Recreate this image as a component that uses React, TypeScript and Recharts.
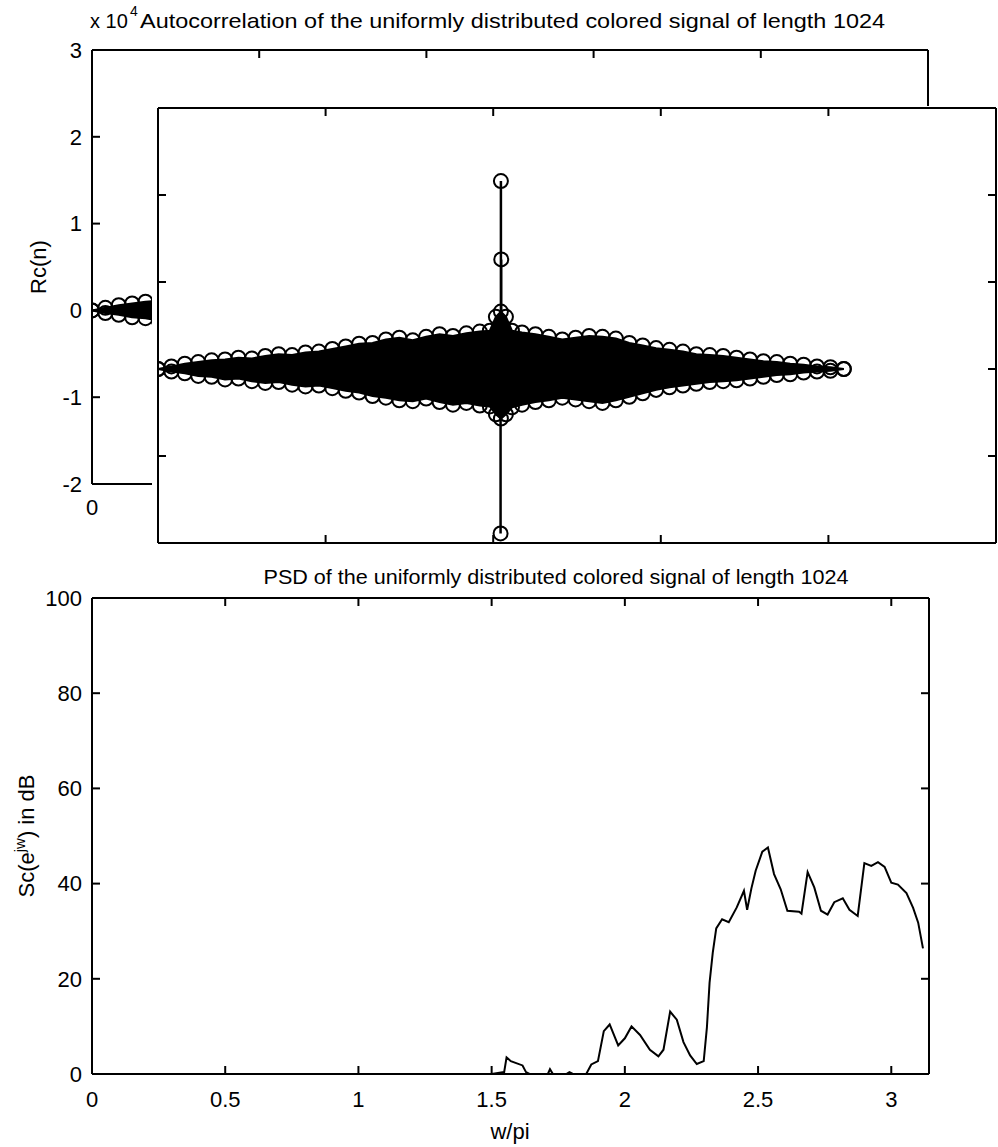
import { ComposedChart, Line, Area, Scatter, XAxis, YAxis } from 'recharts'

const FONT = "'Liberation Sans', Arial, Helvetica, sans-serif"

// autocorrelation Rc(n), values in units of 1e4: envelope of the stem cloud
const ACF_LAG = [
  0, 40, 80, 120, 160, 200, 240, 280, 320, 360, 400, 440, 480, 520, 560, 600, 640, 680, 720, 760, 800, 840, 880, 920, 960,
  990, 1008, 1023, 1038, 1056,
  1086, 1126, 1166, 1206, 1246, 1286, 1326, 1366, 1406, 1446, 1486, 1526, 1566, 1606, 1646, 1686, 1726, 1766, 1806, 1846, 1886, 1926, 1966, 2006, 2046,
]
const ACF_HI = [
  0, 0.03, 0.06, 0.08, 0.1, 0.11, 0.13, 0.12, 0.15, 0.17, 0.16, 0.19, 0.2, 0.23, 0.26, 0.29, 0.3, 0.34, 0.36, 0.33, 0.37, 0.4, 0.38, 0.41, 0.43,
  0.44, 0.6, 0.66, 0.6, 0.44,
  0.42, 0.4, 0.37, 0.34, 0.36, 0.38, 0.37, 0.35, 0.3, 0.27, 0.24, 0.22, 0.2, 0.17, 0.16, 0.15, 0.13, 0.11, 0.09, 0.08, 0.06, 0.05, 0.03, 0.02, 0,
]
const ACF_LO = [
  0, -0.03, -0.05, -0.08, -0.09, -0.12, -0.11, -0.14, -0.16, -0.15, -0.18, -0.2, -0.19, -0.22, -0.25, -0.27, -0.31, -0.33, -0.36, -0.37, -0.34, -0.38, -0.41, -0.39, -0.42,
  -0.43, -0.52, -0.57, -0.52, -0.44,
  -0.41, -0.38, -0.36, -0.33, -0.35, -0.37, -0.39, -0.36, -0.32, -0.28, -0.24, -0.21, -0.19, -0.17, -0.15, -0.14, -0.13, -0.11, -0.09, -0.07, -0.06, -0.04, -0.03, -0.02, 0,
]
// the tall stems around lag 0
const STEM_LAG = [1023, 1024, 1022]
const STEM_VAL = [2.16, 1.26, -1.89]
const ACF_TICKS_X = [0, 500, 1000, 1500, 2000, 2500]
const ACF_TICKS_Y = [-2, -1, 0, 1, 2, 3]

// PSD in dB against w/pi
const PSD_W = [
  0, 1.5, 1.547, 1.556, 1.572, 1.616, 1.629, 1.642, 1.711, 1.719, 1.73, 1.78, 1.792, 1.805, 1.855, 1.874, 1.899, 1.921, 1.943,
  1.975, 2.0, 2.025, 2.057, 2.094, 2.126, 2.145, 2.17, 2.195, 2.22, 2.245, 2.27, 2.296, 2.308, 2.318, 2.33, 2.343, 2.365, 2.39,
  2.42, 2.447, 2.459, 2.475, 2.491, 2.516, 2.537, 2.56, 2.585, 2.61, 2.654, 2.663, 2.686, 2.711, 2.736, 2.761, 2.786, 2.818,
  2.843, 2.874, 2.899, 2.925, 2.95, 2.975, 3.0, 3.025, 3.057, 3.082, 3.101, 3.119,
]
const PSD_DB = [
  0, 0, 0.4, 3.5, 2.7, 1.8, 0.4, 0, 0, 1.0, 0, 0, 0.4, 0, 0, 2, 2.7, 9, 10.4,
  6, 7.5, 10, 8.2, 5.1, 3.7, 5.1, 13.1, 11.4, 6.7, 3.9, 2.1, 2.7, 9.8, 19.2, 25.5, 30.6, 32.5, 31.9,
  35, 38.5, 34.5, 39, 42.7, 46.7, 47.6, 42, 38.8, 34.3, 34.1, 33.7, 42.4, 39.2, 34.3, 33.5, 36.1, 36.9,
  34.5, 33.2, 44.3, 43.7, 44.5, 43.5, 40.2, 39.8, 38, 34.9, 31.8, 26.4,
]
const PSD_TICKS_X = [0, 0.5, 1, 1.5, 2, 2.5, 3]
const PSD_TICKS_Y = [0, 20, 40, 60, 80, 100]

const acfRows = ACF_LAG.map((n, i) => ({ n, band: [ACF_LO[i], ACF_HI[i]] }))
const hiPts = ACF_LAG.map((n, i) => ({ n, v: ACF_HI[i] }))
const loPts = ACF_LAG.map((n, i) => ({ n, v: ACF_LO[i] }))
const stemRows = STEM_LAG.flatMap((n, i) => [{ n, s: 0 }, { n, s: STEM_VAL[i] }, { n, s: null }])
const stemPts = STEM_LAG.map((n, i) => ({ n, v: STEM_VAL[i] }))
const psdRows = PSD_W.map((w, i) => ({ w, db: PSD_DB[i] }))

const ink = { stroke: '#000', strokeWidth: 2 }
const tickText = { fontFamily: FONT, fontSize: 22, fill: '#000' }
const blank = () => ''
const noMargin = { top: 0, right: 0, bottom: 0, left: 0 }

const ring = (p: any) => <circle cx={p.cx} cy={p.cy} r={7} fill="none" stroke="#000" strokeWidth={2} />

// top edge of a box: one flat chart draws the edge line, a second one hangs its ticks down from it
function TopTicks({ left, top, width, domain, ticks }: any) {
  const rows = ticks.map((t: number) => ({ t, z: 0 }))
  return (
    <>
      <div style={{ position: 'absolute', left, top: top - 1 }}>
        <ComposedChart width={width} height={12} margin={noMargin} data={rows}>
          <XAxis type="number" dataKey="t" domain={domain} allowDataOverflow ticks={ticks} interval={0} height={11}
            axisLine={ink} tickLine={false} tickFormatter={blank} />
          <YAxis hide domain={[0, 1]} />
          <Line dataKey="z" stroke="none" dot={false} isAnimationActive={false} />
        </ComposedChart>
      </div>
      <div style={{ position: 'absolute', left, top: top - 2 }}>
        <ComposedChart width={width} height={20} margin={noMargin} data={rows}>
          <XAxis type="number" dataKey="t" domain={domain} allowDataOverflow ticks={ticks} interval={0} height={10}
            axisLine={false} tickLine={ink} tickSize={-8} tick={tickText} tickFormatter={blank} />
          <YAxis type="number" domain={[0, 1]} width={0.001} axisLine={false} tickLine={false} tick={false} />
          <Line dataKey="z" stroke="none" dot={false} isAnimationActive={false} />
        </ComposedChart>
      </div>
    </>
  )
}

// right edge of a box with inward ticks: a thin chart whose left axis sits on the box's right edge
function RightTicks({ left, top, height, domain, ticks }: any) {
  const rows = ticks.map((t: number) => ({ k: 0, t }))
  return (
    <div style={{ position: 'absolute', left: left - 19, top }}>
      <ComposedChart width={20} height={height} margin={noMargin} data={rows}>
        <XAxis hide type="number" dataKey="k" domain={[0, 1]} />
        <YAxis type="number" domain={domain} allowDataOverflow ticks={ticks} interval={0} width={19}
          axisLine={ink} tickLine={ink} tickSize={8} tickFormatter={blank} />
        <Line dataKey="t" stroke="none" dot={false} isAnimationActive={false} />
      </ComposedChart>
    </div>
  )
}

function AcfChart({ width, height, margin, yW, xH, labels }: any) {
  return (
    <ComposedChart width={width} height={height} margin={margin} data={acfRows}>
      <XAxis type="number" dataKey="n" domain={[0, 2500]} allowDataOverflow ticks={ACF_TICKS_X} interval={0} height={xH}
        axisLine={ink} tickLine={ink} tickSize={-8} tickMargin={23} tick={tickText} tickFormatter={labels ? undefined : blank} />
      <YAxis type="number" domain={[-2, 3]} allowDataOverflow ticks={ACF_TICKS_Y} interval={0} width={yW}
        axisLine={ink} tickLine={ink} tickSize={-8} tickMargin={18} tick={tickText} tickFormatter={labels ? undefined : blank} />
      <Area dataKey="band" type="linear" fill="#000" fillOpacity={1} stroke="#000" strokeWidth={2} isAnimationActive={false} />
      <Line data={stemRows} dataKey="s" type="linear" stroke="#000" strokeWidth={2.5} dot={false} isAnimationActive={false} />
      <Scatter data={hiPts} dataKey="v" shape={ring} isAnimationActive={false} />
      <Scatter data={loPts} dataKey="v" shape={ring} isAnimationActive={false} />
      <Scatter data={stemPts} dataKey="v" shape={ring} isAnimationActive={false} />
    </ComposedChart>
  )
}

const PSD_TOP = 598

export default function App() {
  return (
    <div style={{ position: 'absolute', left: 0, top: 0, width: 998, height: 1147, background: '#fff', overflow: 'hidden' }}>
      {/* back axes of the top subplot: box 92..928 x 50..484 */}
      <div style={{ position: 'absolute', left: 0, top: 0 }}>
        <AcfChart width={998} height={560} margin={{ top: 50, right: 70, bottom: 0, left: 0 }} yW={92} xH={76} labels />
      </div>
      <TopTicks left={92} top={50} width={836} domain={[0, 2500]} ticks={ACF_TICKS_X} />
      <RightTicks left={928} top={50} height={434} domain={[-2, 3]} ticks={ACF_TICKS_Y} />

      {/* front axes drawn over it: box 158..996 x 108..543 */}
      <div style={{ position: 'absolute', left: 152, top: 106, background: '#fff' }}>
        <AcfChart width={846} height={444} margin={{ top: 2, right: 2, bottom: 0, left: 0 }} yW={6} xH={7} labels={false} />
      </div>
      <TopTicks left={158} top={108} width={838} domain={[0, 2500]} ticks={ACF_TICKS_X} />
      <RightTicks left={996} top={108} height={435} domain={[-2, 3]} ticks={ACF_TICKS_Y} />

      {/* PSD subplot: box 92..929 x PSD_TOP..1074 */}
      <div style={{ position: 'absolute', left: 0, top: 550 }}>
        <ComposedChart width={998} height={597} data={psdRows} margin={{ top: PSD_TOP - 550, right: 69, bottom: 0, left: 0 }}>
          <XAxis type="number" dataKey="w" domain={[0, Math.PI]} allowDataOverflow ticks={PSD_TICKS_X} interval={0} height={73}
            axisLine={ink} tickLine={ink} tickSize={-8} tickMargin={25} tick={tickText} />
          <YAxis type="number" domain={[0, 100]} allowDataOverflow ticks={PSD_TICKS_Y} interval={0} width={92}
            axisLine={ink} tickLine={ink} tickSize={-8} tickMargin={18} tick={tickText} />
          <Line dataKey="db" type="linear" stroke="#000" strokeWidth={2} dot={false} isAnimationActive={false} />
        </ComposedChart>
      </div>
      <TopTicks left={92} top={PSD_TOP} width={837} domain={[0, Math.PI]} ticks={PSD_TICKS_X} />
      <RightTicks left={929} top={PSD_TOP} height={1074 - PSD_TOP} domain={[0, 100]} ticks={PSD_TICKS_Y} />

      <svg width={998} height={1147} style={{ position: 'absolute', left: 0, top: 0, pointerEvents: 'none' }}
        fontFamily={FONT} fill="#000">
        <text x={90} y={28} fontSize={20}>x 10</text>
        <text x={130} y={16} fontSize={14}>4</text>
        <text x={140} y={28} fontSize={21} textLength={745} lengthAdjust="spacingAndGlyphs">
          Autocorrelation of the uniformly distributed colored signal of length 1024
        </text>
        <text x={46} y={267} fontSize={22} textAnchor="middle" transform="rotate(-90 46 267)">Rc(n)</text>
        <text x={556} y={PSD_TOP - 14} fontSize={21} textAnchor="middle" textLength={585} lengthAdjust="spacingAndGlyphs">
          PSD of the uniformly distributed colored signal of length 1024
        </text>
        <text x={510} y={1139} fontSize={22} textAnchor="middle">w/pi</text>
        <text x={34} y={(PSD_TOP + 1074) / 2} fontSize={22} textAnchor="middle"
          transform={`rotate(-90 34 ${(PSD_TOP + 1074) / 2})`}>
          Sc(e<tspan fontSize={15} dy={-9}>jw</tspan><tspan dy={9}>) in dB</tspan>
        </text>
      </svg>
    </div>
  )
}
